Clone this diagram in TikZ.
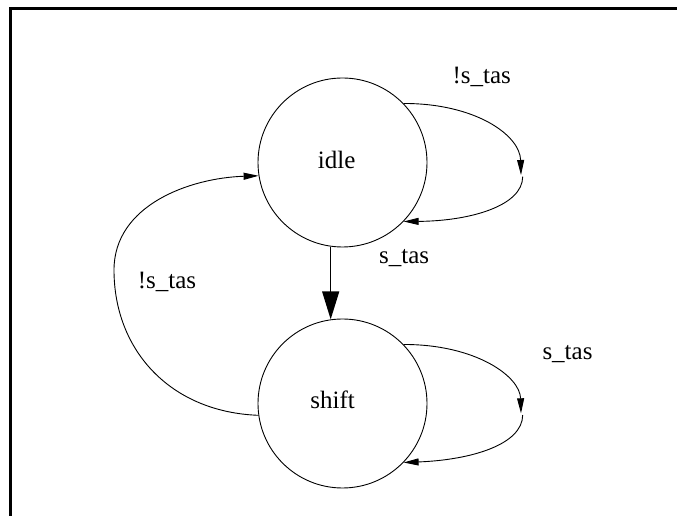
\documentclass[tikz,border=0pt]{standalone}
\usepackage{fontspec}
\setmainfont{Liberation Serif}
\usetikzlibrary{arrows.meta}
\begin{document}
\begin{tikzpicture}[x=1pt,y=1pt,
  state/.style={circle,draw,line width=0.9pt,minimum size=169pt,inner sep=0pt},
  lbl/.style={font=\fontsize{25}{30}\selectfont,inner sep=0pt,anchor=base},
  edge/.style={line width=0.9pt,-{Triangle[length=15pt,width=7pt]}},
  bigedge/.style={line width=1.3pt,-{Triangle[length=28pt,width=17pt]}}]
\useasboundingbox (0,0) rectangle (677,516);
\clip (0,0) rectangle (677,516);
% frame
\draw[line width=3pt] (10,-10) -- (10,507.5) -- (690,507.5);
% states
\node[state] (idle) at (342.5,353.5) {};
\node[state] (shift) at (342.5,112.5) {};
\node[lbl] (tidle) at (336.7,347.7) {idle};
\node[lbl] (tshift) at (332.7,107) {shift};
% edge labels
\node[lbl] (l1) at (481.7,432) {!s\_tas};
\node[lbl] (l2) at (404.2,252) {s\_tas};
\node[lbl] (l3) at (167,227.7) {!s\_tas};
\node[lbl] (l4) at (567.5,156.7) {s\_tas};
% idle self loop
\coordinate (ia) at (521,341);
\coordinate (ib) at (522.7,339.3);
\draw[edge] (idle.44.2) .. controls (475,412.7) and (520,381) .. (ia);
\draw[edge] (ib) .. controls (522.5,310) and (470,295) .. (idle.-44);
% shift self loop
\coordinate (sa) at (521,102.7);
\coordinate (sb) at (522.7,101);
\draw[edge] (shift.44.2) .. controls (475,171.7) and (520,140) .. (sa);
\draw[edge] (sb) .. controls (522.5,71) and (470,56) .. (shift.-44);
% idle -> shift
\draw[bigedge] (idle.-98.5) -- (shift.98.5);
% shift -> idle
\draw[edge] (shift.188.9) .. controls (170,104) and (114,166) .. (114,246)
  .. controls (114,311) and (190,338) .. (idle.189);
\end{tikzpicture}
\end{document}
